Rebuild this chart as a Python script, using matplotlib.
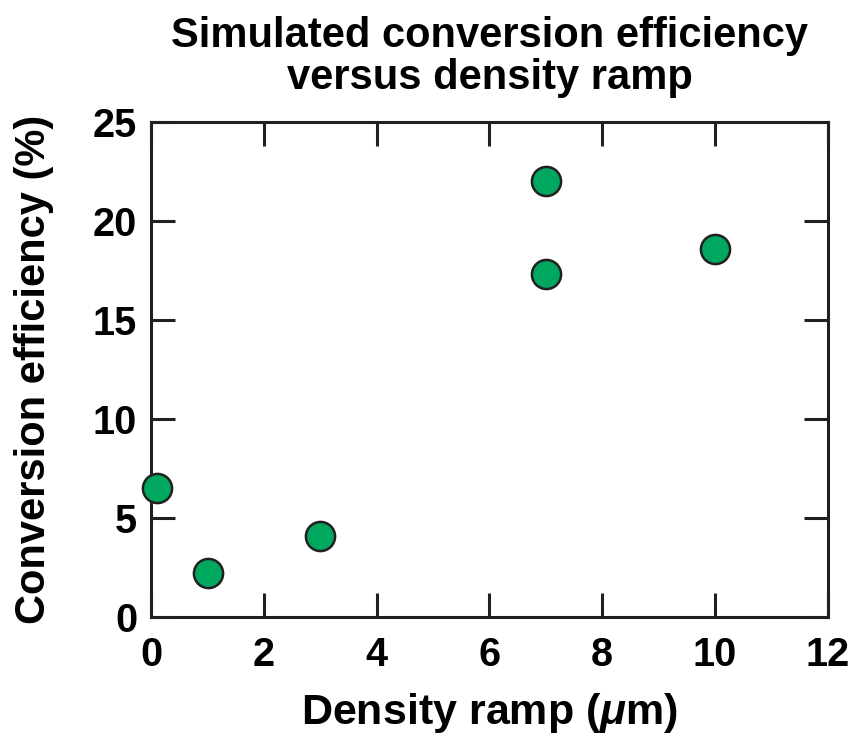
import matplotlib
matplotlib.use("Agg")
import matplotlib.pyplot as plt

ramp_um = [0.1, 1.0, 3.0, 7.0, 7.0, 10.0]
efficiency_pct = [6.5, 2.2, 4.1, 22.0, 17.3, 18.6]
x_ticks = [0, 2, 4, 6, 8, 10, 12]
y_ticks = [0, 5, 10, 15, 20, 25]

plt.rcParams['font.family'] = ['Liberation Sans', 'DejaVu Sans']
plt.rcParams['font.weight'] = 'bold'
plt.rcParams['mathtext.fontset'] = 'custom'
plt.rcParams['mathtext.it'] = 'Liberation Sans:italic:bold'
plt.rcParams['mathtext.rm'] = 'Liberation Sans:bold'

axc = '#231f20'
fig = plt.figure(figsize=(8.49, 7.35), dpi=100)
ax = fig.add_axes([0.178, 0.1605, 0.797, 0.6735])
ax.plot(ramp_um, efficiency_pct, 'o', markersize=21, markerfacecolor='#00a85f',
        markeredgecolor=axc, markeredgewidth=1.8, clip_on=False, zorder=3)
ax.set_xlim(0, 12)
ax.set_ylim(0, 25)
ax.set_xticks(x_ticks)
ax.set_yticks(y_ticks)
ax.tick_params(direction='in', length=17, width=2.2, color=axc, top=True, right=True,
               labelsize=28.5, pad=10)
ax.tick_params(axis='x', pad=14)
for lab in ax.get_xticklabels() + ax.get_yticklabels():
    lab.set_fontweight('bold')
for s in ax.spines.values():
    s.set_linewidth(2.2)
    s.set_color(axc)
ax.set_xlabel(r'Density ramp ($\mathit{\mu}$m)', fontsize=31, fontweight='bold', labelpad=12)
ax.set_ylabel('Conversion efficiency (%)', fontsize=30, fontweight='bold', labelpad=28)
ax.set_title('Simulated conversion efficiency\nversus density ramp', fontsize=30,
             fontweight='bold', pad=24, linespacing=1.05)
fig.savefig('out.png', dpi=100)
